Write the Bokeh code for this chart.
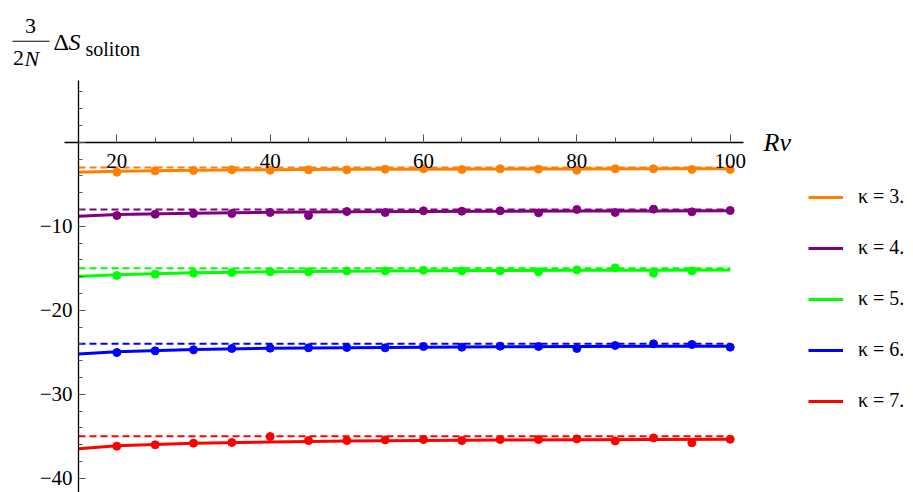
from bokeh.plotting import figure
from bokeh.models import Label, Legend, LegendItem, FixedTicker, BoxAnnotation
from bokeh.embed import file_html
from bokeh.resources import INLINE

# ---- data ----
kappas = ["κ = 3.", "κ = 4.", "κ = 5.", "κ = 6.", "κ = 7."]
colors = ["#FF8000", "#800080", "#00FF00", "#0000FF", "#FF0000"]

x_pts = [20, 25, 30, 35, 40, 45, 50, 55, 60, 65, 70, 75, 80, 85, 90, 95, 100]
pts_k3 = [-3.57, -3.41, -3.37, -3.29, -3.33, -3.29, -3.29, -3.21, -3.17, -3.25, -3.17, -3.21, -3.33, -3.17, -3.17, -3.25, -3.25]
pts_k4 = [-8.73, -8.57, -8.49, -8.49, -8.37, -8.73, -8.25, -8.37, -8.17, -8.21, -8.17, -8.41, -8.01, -8.37, -7.97, -8.29, -8.13]
pts_k5 = [-15.87, -15.71, -15.59, -15.51, -15.43, -15.43, -15.32, -15.32, -15.24, -15.32, -15.32, -15.43, -15.20, -14.96, -15.59, -15.32]
pts_k6 = [-25.04, -24.84, -24.72, -24.56, -24.52, -24.48, -24.44, -24.48, -24.32, -24.40, -24.28, -24.32, -24.56, -24.20, -24.00, -24.08, -24.40]
pts_k7 = [-36.19, -36.03, -35.83, -35.75, -35.04, -35.52, -35.52, -35.44, -35.40, -35.52, -35.40, -35.40, -35.32, -35.56, -35.20, -35.79, -35.36]

fit_x = [15, 20, 30, 40, 50, 60, 70, 80, 90, 100]
fit_k3 = [-3.57, -3.45, -3.33, -3.27, -3.23, -3.21, -3.19, -3.18, -3.17, -3.16]
fit_k4 = [-8.81, -8.62, -8.45, -8.35, -8.29, -8.25, -8.22, -8.20, -8.18, -8.16]
fit_k5 = [-16.0, -15.78, -15.55, -15.43, -15.36, -15.31, -15.28, -15.25, -15.23, -15.21]
fit_k6 = [-25.2, -24.95, -24.68, -24.54, -24.46, -24.40, -24.36, -24.33, -24.30, -24.28]
fit_k7 = [-36.5, -36.15, -35.85, -35.68, -35.57, -35.50, -35.45, -35.42, -35.39, -35.36]

asymptotes = [-3, -8, -15, -24, -35]

x_major = [20, 40, 60, 80, 100]
x_minor = list(range(15, 101, 5))
y_major = [-40, -30, -20, -10, 0]
y_minor = list(range(-40, 7, 2))

x_axis_extent = (13.2, 101.8)
y_axis_extent = (-41.7, 7.35)

points = [pts_k3, pts_k4, pts_k5, pts_k6, pts_k7]
fits = [fit_k3, fit_k4, fit_k5, fit_k6, fit_k7]

SERIF = "Liberation Serif"
W, H = 913, 492
PX_X0, PX_PER_X = 78.0, 7.667     # pixel of x=15, pixels per x unit
PX_Y0, PX_PER_Y = 141.7, 8.4      # pixel of y=0, pixels per y unit

def dx(px):
    return 15 + (px - PX_X0) / PX_PER_X

def dy(py):
    return (PX_Y0 - py) / PX_PER_Y

p = figure(width=W, height=H, x_range=(dx(0), dx(W)), y_range=(dy(H), dy(0)),
           output_backend="svg", toolbar_location=None,
           min_border_left=0, min_border_right=0, min_border_top=0, min_border_bottom=0)
p.outline_line_color = None
p.grid.visible = False
p.background_fill_color = "white"
p.border_fill_color = "white"

xa = p.xaxis[0]
xa.fixed_location = 0
xa.bounds = x_axis_extent
xa.ticker = FixedTicker(ticks=x_major, minor_ticks=x_minor)
xa.major_tick_in = 8
xa.major_tick_out = 0
xa.minor_tick_in = 5
xa.minor_tick_out = 0
xa.major_label_standoff = 12
xa.major_label_text_font = SERIF
xa.major_label_text_font_size = "21px"
xa.major_label_text_color = "black"
xa.axis_line_color = "black"
xa.axis_line_width = 1.3
xa.major_tick_line_color = "#555555"
xa.minor_tick_line_color = "#555555"

ya = p.yaxis[0]
ya.fixed_location = 15
ya.bounds = y_axis_extent
ya.ticker = FixedTicker(ticks=y_major, minor_ticks=y_minor)
ya.major_tick_in = 7
ya.major_tick_out = 0
ya.minor_tick_in = 4
ya.minor_tick_out = 0
ya.major_label_standoff = 6
ya.major_label_overrides = {t: ("\u2212%d" % (-t) if t < 0 else "") for t in y_major}
ya.major_label_text_font = SERIF
ya.major_label_text_font_size = "21px"
ya.major_label_text_color = "black"
ya.axis_line_color = "black"
ya.axis_line_width = 1.3
ya.major_tick_line_color = "#555555"
ya.minor_tick_line_color = "#555555"

items = []
for lab_text, col, pts, fit, a in zip(kappas, colors, points, fits, asymptotes):
    p.line([fit_x[0], fit_x[-1]], [a, a], line_color=col, line_width=2, line_dash="7 4")
    r = p.line(fit_x, fit, line_color=col, line_width=3)
    p.scatter(x_pts[:len(pts)], pts, size=8, fill_color=col, line_color=col)
    items.append(LegendItem(label=lab_text, renderers=[r]))

legend = Legend(items=items, location=(808, 80), padding=0, margin=0, spacing=28,
                glyph_width=35, glyph_height=22, label_height=22, label_standoff=15,
                label_text_font=SERIF, label_text_font_size="20px", label_text_color="black",
                border_line_color=None, background_fill_alpha=0)
p.add_layout(legend, "center")

def lab(px, py, text, size, italic=False, align="left"):
    p.add_layout(Label(x=dx(px), y=dy(py), text=text, text_font=SERIF,
                       text_font_style="italic" if italic else "normal",
                       text_font_size=size, text_color="black",
                       text_align=align, text_baseline="middle"))

# axis label Rv
lab(763, 141.7, "Rv", "26px", italic=True)

# y-axis title: 3/(2N) ΔS_soliton
lab(30, 25, "3", "22px", align="center")
lab(18, 57.5, "2", "22px", align="center")
lab(24, 57.5, "N", "22px", italic=True)
p.add_layout(BoxAnnotation(left=dx(12), right=dx(49), top=dy(40.2), bottom=dy(41.3),
                           fill_color="black", fill_alpha=1, line_color=None))
lab(53, 41.5, "Δ", "24px")
lab(68, 41.5, "S", "24px", italic=True)
lab(85, 48, "soliton", "20px")

open("out.html", "w").write(file_html(p, INLINE))
